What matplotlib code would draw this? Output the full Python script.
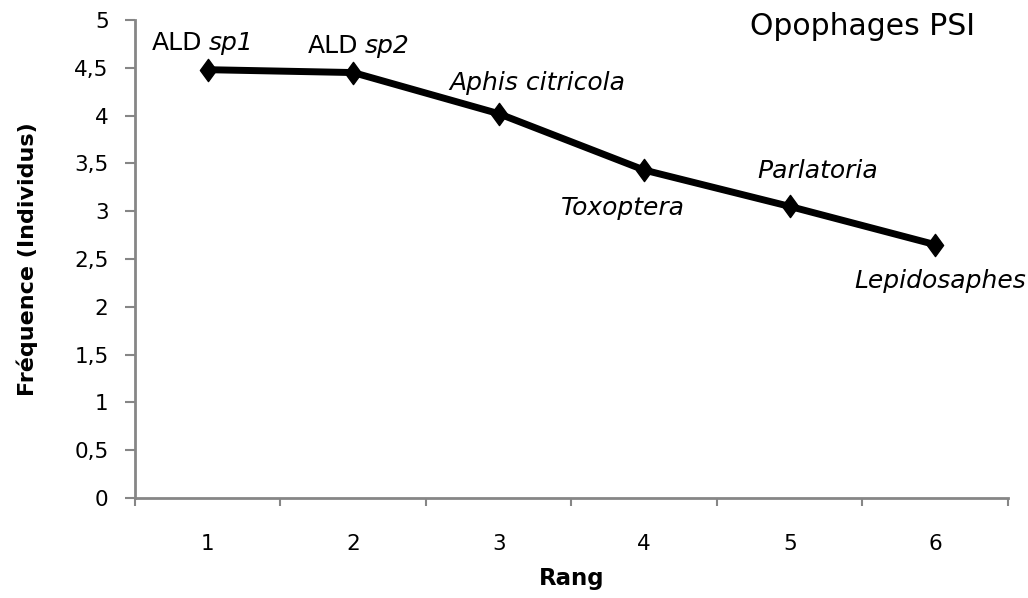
import matplotlib.pyplot as plt
import numpy as np
from matplotlib.path import Path

# Données
rangs = [1, 2, 3, 4, 5, 6]
frequences = [4.48, 4.45, 4.02, 3.43, 3.05, 2.65]
y_ticks = [0, 0.5, 1, 1.5, 2, 2.5, 3, 3.5, 4, 4.5, 5]
y_tick_labels = ["0", "0,5", "1", "1,5", "2", "2,5", "3", "3,5", "4", "4,5", "5"]

# étiquettes des espèces : (préfixe droit, texte italique)
especes = [("ALD", "sp1"), ("ALD", "sp2"), ("", "Aphis citricola"),
           ("", "Toxoptera"), ("", "Parlatoria"), ("", "Lepidosaphes")]
# décalages en pixels (x, y) de la ligne de base
decalages = [(-2, 20), (8, 20), (39, 24), (-21, -45), (28, 28), (5, -43)]

gris = "#868686"
losange = Path([(0, 1), (0.73, 0), (0, -1), (-0.73, 0), (0, 1)],
               [Path.MOVETO, Path.LINETO, Path.LINETO, Path.LINETO, Path.CLOSEPOLY])

fig = plt.figure(figsize=(10.28, 5.98), dpi=100)
ax = fig.add_axes([0.1313, 0.1672, 0.8492, 0.7994])

ax.plot(rangs, frequences, color="black", linewidth=5, marker=losange,
        markersize=16, solid_joinstyle="round")

ax.set_xlim(0.5, 6.5)
ax.set_ylim(0, 5)
ax.set_yticks(y_ticks)
ax.set_yticklabels(y_tick_labels)
ax.set_xticks(rangs)
ax.set_xticks(np.arange(0.5, 7.0, 1.0), minor=True)
ax.tick_params(axis="x", which="major", length=0, pad=26, labelsize=15.5)
ax.tick_params(axis="x", which="minor", length=6, width=1.5, color=gris)
ax.tick_params(axis="y", length=7, width=1.5, color=gris, labelsize=15.5, pad=12)

for side in ["top", "right"]:
    ax.spines[side].set_visible(False)
for side in ["left", "bottom"]:
    ax.spines[side].set_color(gris)
    ax.spines[side].set_linewidth(2)

ax.set_xlabel("Rang", fontsize=16.5, fontweight="bold")
ax.set_ylabel("Fréquence (Individus)", fontsize=16, fontweight="bold")
ax.xaxis.set_label_coords(0.5, -0.144)
ax.yaxis.set_label_coords(-0.111, 0.5)

for x, y, (prefixe, nom), (dx, dy) in zip(rangs, frequences, especes, decalages):
    if prefixe:
        ax.annotate(prefixe, (x, y), xytext=(dx - 3, dy), textcoords="offset pixels",
                    ha="right", va="baseline", fontsize=18)
        ax.annotate(nom, (x, y), xytext=(dx + 3, dy), textcoords="offset pixels",
                    ha="left", va="baseline", fontsize=18, style="italic")
    else:
        ax.annotate(nom, (x, y), xytext=(dx, dy), textcoords="offset pixels",
                    ha="center", va="baseline", fontsize=18, style="italic")

ax.text(0.833, 0.968, "Opophages PSI", transform=ax.transAxes, ha="center",
        va="baseline", fontsize=21.5)

fig.savefig("out.png", dpi=100)
